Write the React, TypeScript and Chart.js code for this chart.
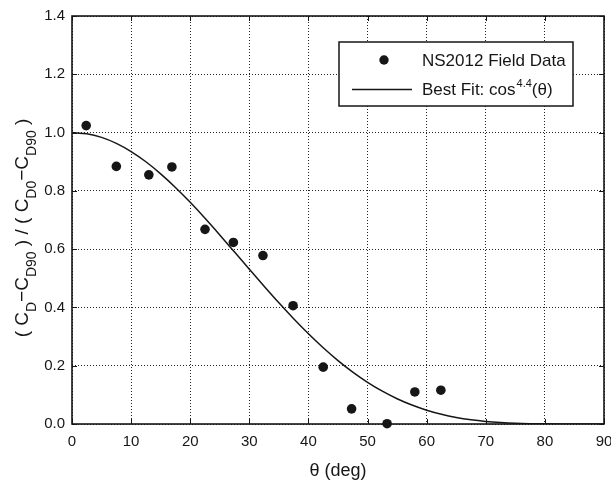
import React, { useEffect, useRef } from "react";
import { Chart, registerables } from "chart.js";

Chart.register(...registerables);

const FONT = '"Liberation Sans", Arial, Helvetica, sans-serif';

// NS2012 field data (theta in deg, normalized drag)
const fieldTheta = [2.4, 7.5, 13.0, 16.9, 22.5, 27.3, 32.3, 37.4, 42.5, 47.3, 53.3, 58.0, 62.4];
const fieldValue = [1.024, 0.884, 0.855, 0.882, 0.668, 0.623, 0.578, 0.406, 0.195, 0.052, 0.001, 0.11, 0.116];

// Best fit curve cos^4.4(theta), sampled
const fitTheta = [
  0, 2.5, 5, 7.5, 10, 12.5, 15, 17.5, 20, 22.5, 25, 27.5, 30, 32.5, 35, 37.5, 40, 42.5, 45,
  47.5, 50, 52.5, 55, 57.5, 60, 62.5, 65, 67.5, 70, 72.5, 75, 77.5, 80, 82.5, 85, 87.5, 90,
];
const fitValue = [
  1.0, 0.9958, 0.9834, 0.9629, 0.9349, 0.8998, 0.8585, 0.8118, 0.7606, 0.7058, 0.6487, 0.5901,
  0.5311, 0.4726, 0.4157, 0.3611, 0.3095, 0.2616, 0.2176, 0.1781, 0.1431, 0.1126, 0.0867,
  0.065, 0.0474, 0.0334, 0.0226, 0.0146, 0.0089, 0.0051, 0.0026, 0.0012, 0.0005, 0.0001, 0.0, 0.0, 0.0,
];

const xMin = 0, xMax = 90, xStep = 10;
const yMin = 0, yMax = 1.4, yStep = 0.2;

const seriesLabels = ["NS2012 Field Data", "Best Fit: cos", "4.4", "(θ)"];
const xTitle = "θ (deg)";
const yTitleParts: [string, boolean][] = [
  ["( C", false], ["D", true], ["−C", false], ["D90", true],
  [" ) / ( C", false], ["D0", true], ["−C", false], ["D90", true], [" )", false],
];

const INK = "#161616";

const decorPlugin = {
  id: "decor",
  afterDatasetsDraw(chart: any) {
    const { ctx, chartArea: a, scales } = chart;
    ctx.save();
    // inward ticks
    ctx.strokeStyle = INK;
    ctx.lineWidth = 1;
    const tl = 5;
    scales.x.ticks.forEach((t: any) => {
      const px = Math.round(scales.x.getPixelForValue(t.value)) + 0.5;
      ctx.beginPath();
      ctx.moveTo(px, a.bottom); ctx.lineTo(px, a.bottom - tl);
      ctx.moveTo(px, a.top); ctx.lineTo(px, a.top + tl);
      ctx.stroke();
    });
    scales.y.ticks.forEach((t: any) => {
      const py = Math.round(scales.y.getPixelForValue(t.value)) + 0.5;
      ctx.beginPath();
      ctx.moveTo(a.left, py); ctx.lineTo(a.left + tl, py);
      ctx.moveTo(a.right, py); ctx.lineTo(a.right - tl, py);
      ctx.stroke();
    });
    // frame
    ctx.lineWidth = 1.6;
    ctx.strokeRect(a.left, a.top, a.right - a.left, a.bottom - a.top);

    // legend
    const lx = 339, ly = 42, lw = 234, lh = 64;
    ctx.fillStyle = "#ffffff";
    ctx.fillRect(lx, ly, lw, lh);
    ctx.lineWidth = 1.5;
    ctx.strokeStyle = INK;
    ctx.strokeRect(lx, ly, lw, lh);
    // dot
    ctx.fillStyle = INK;
    ctx.beginPath();
    ctx.arc(384, 60, 4.7, 0, Math.PI * 2);
    ctx.fill();
    // line
    ctx.lineWidth = 1.5;
    ctx.beginPath();
    ctx.moveTo(352, 89.5); ctx.lineTo(412, 89.5);
    ctx.stroke();
    ctx.textBaseline = "alphabetic";
    ctx.textAlign = "left";
    ctx.font = `17px ${FONT}`;
    ctx.fillText(seriesLabels[0], 422, 66);
    let tx = 422;
    ctx.fillText(seriesLabels[1], tx, 95);
    tx += ctx.measureText(seriesLabels[1]).width;
    ctx.font = `11px ${FONT}`;
    ctx.fillText(seriesLabels[2], tx + 1, 87);
    tx += ctx.measureText(seriesLabels[2]).width + 1;
    ctx.font = `17px ${FONT}`;
    ctx.fillText(seriesLabels[3], tx, 95);

    // y title
    const mainSize = 19, subSize = 14;
    let total = 0;
    yTitleParts.forEach(([t, sub]) => {
      ctx.font = `${sub ? subSize : mainSize}px ${FONT}`;
      total += ctx.measureText(t).width;
    });
    ctx.translate(28, 228);
    ctx.rotate(-Math.PI / 2);
    let x = -total / 2;
    yTitleParts.forEach(([t, sub]) => {
      ctx.font = `${sub ? subSize : mainSize}px ${FONT}`;
      ctx.fillText(t, x, sub ? 8 : 0);
      x += ctx.measureText(t).width;
    });
    ctx.restore();

    // x title
    ctx.save();
    ctx.fillStyle = INK;
    ctx.font = `18px ${FONT}`;
    ctx.textAlign = "center";
    ctx.textBaseline = "middle";
    ctx.fillText(xTitle, (a.left + a.right) / 2, 471);
    ctx.restore();
  },
};

export default function App() {
  const ref = useRef<HTMLCanvasElement | null>(null);
  useEffect(() => {
    const canvas = ref.current;
    if (!canvas) return;
    const chart = new Chart(canvas, {
      type: "scatter",
      data: {
        datasets: [
          {
            label: seriesLabels[0],
            data: fieldTheta.map((t, i) => ({ x: t, y: fieldValue[i] })),
            backgroundColor: INK,
            borderColor: INK,
            pointRadius: 4.8,
            pointHoverRadius: 4.8,
            borderWidth: 0,
            showLine: false,
            clip: false,
          } as any,
          {
            label: "Best Fit",
            data: fitTheta.map((t, i) => ({ x: t, y: fitValue[i] })),
            borderColor: INK,
            backgroundColor: INK,
            borderWidth: 1.5,
            pointRadius: 0,
            showLine: true,
            cubicInterpolationMode: "monotone",
          } as any,
        ],
      },
      options: {
        animation: false,
        responsive: false,
        devicePixelRatio: 1,
        layout: { padding: { left: 0, right: 7, top: 16, bottom: 0 } },
        plugins: { legend: { display: false }, tooltip: { enabled: false } },
        scales: {
          x: {
            type: "linear",
            min: xMin,
            max: xMax,
            border: { display: false, dash: [1, 2] },
            grid: { color: "#222", lineWidth: 1, drawTicks: false } as any,
            ticks: {
              stepSize: xStep,
              color: INK,
              padding: 9,
              maxRotation: 0,
              font: { family: FONT, size: 15 },
            },
            afterFit: (s: any) => {
              s.height = 59;
              s.paddingLeft = 0;
              s.paddingRight = 0;
            },
          },
          y: {
            type: "linear",
            min: yMin,
            max: yMax,
            border: { display: false, dash: [1, 2] },
            grid: { color: "#222", lineWidth: 1, drawTicks: false } as any,
            ticks: {
              stepSize: yStep,
              color: INK,
              padding: 7,
              font: { family: FONT, size: 15 },
              callback: (v: any) => Number(v).toFixed(1),
            },
            afterFit: (s: any) => {
              s.width = 72;
              s.paddingTop = 0;
              s.paddingBottom = 0;
            },
          },
        },
      },
      plugins: [decorPlugin],
    });
    return () => chart.destroy();
  }, []);
  return (
    <div style={{ position: "fixed", left: 0, top: 0, width: 611, height: 483, background: "#fff" }}>
      <canvas ref={ref} width={611} height={483} />
    </div>
  );
}
